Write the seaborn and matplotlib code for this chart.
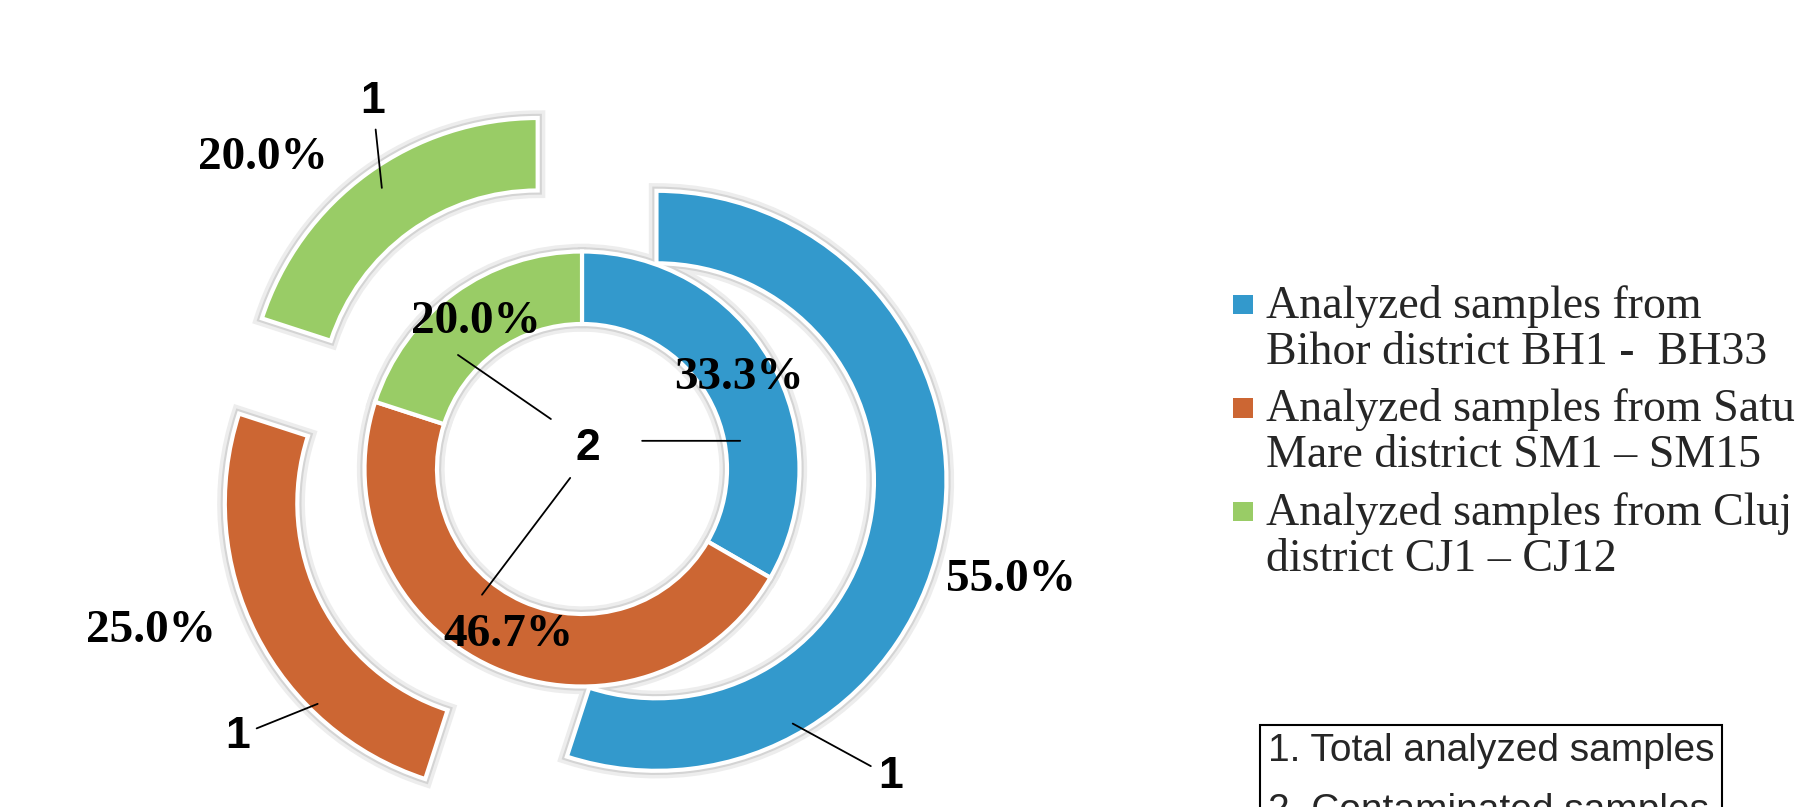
import matplotlib

matplotlib.use("Agg")
import matplotlib.patches as mpatches
import matplotlib.pyplot as plt
import numpy as np
import seaborn as sns
from matplotlib.legend_handler import HandlerPatch

# data: number of samples per district
districts = ["Bihor", "Satu Mare", "Cluj"]
total_samples = [33, 15, 12]  # ring 1 (outer)
contaminated_samples = [5, 7, 3]  # ring 2 (inner)
district_colors = ["#3399CC", "#CC6633", "#99CC66"]
legend_labels = [
    "Analyzed samples from\nBihor district BH1 -  BH33",
    "Analyzed samples from Satu\nMare district SM1 \u2013 SM15",
    "Analyzed samples from Cluj\ndistrict CJ1 \u2013 CJ12",
]
note_lines = ["1. Total analyzed samples", "2. Contaminated samples"]

# layout (pixels / pie units)
W, H = 1809, 807
CX, CY = 582, 469
R_PX = 290
EXPLODE = 0.26
# label placement: (clockwise angle from 12 o'clock, distance from slice centre)
outer_pct_place = [(105.7, 1.27), (250.6, 1.33), (312.3, 1.28)]
outer_tag_place = [(141.7, 1.30), (230.0, 1.25), (331.7, 1.20)]
outer_tag_tip = [(150.7, 0.96), (224.5, 0.97), (324.7, 0.93)]
inner_tag_from = [(64.9, 0.229), (233.0, 0.051), (328.1, 0.203)]
inner_tag_tip = [(79.9, 0.554), (218.5, 0.554), (312.6, 0.581)]
tag2_xy = (0.021, 0.072)


def polar(center, angle, r):
    a = np.deg2rad(angle)
    return (center[0] + r * np.sin(a), center[1] + r * np.cos(a))


class TopSquare(HandlerPatch):
    # square marker lined up with the first line of a two-line label
    def create_artists(self, legend, orig_handle, xdescent, ydescent,
                       width, height, fontsize, trans):
        side = 0.43 * fontsize
        sq = mpatches.Rectangle(
            (-xdescent, -ydescent + 0.68 * fontsize), side, side,
            facecolor=orig_handle.get_facecolor(), edgecolor="none",
            transform=trans,
        )
        return [sq]


sns.set_theme(style="white")
plt.rcParams["font.family"] = ["Liberation Serif", "DejaVu Serif"]
palette = sns.color_palette(district_colors)

fig = plt.figure(figsize=(W / 100, H / 100), dpi=100)
ax = fig.add_axes([0, 0, 1, 1])

pie_kw = dict(startangle=90, counterclock=False)

# soft grey glow under the rings
for lw, grey in [(11, "#ededed"), (6, "#d4d4d4")]:
    ax.pie(total_samples, radius=1.0, explode=[EXPLODE] * 3, colors=[grey] * 3,
           wedgeprops=dict(width=0.25, edgecolor=grey, linewidth=lw, zorder=1),
           **pie_kw)
    ax.pie(contaminated_samples, radius=0.75, colors=[grey] * 3,
           wedgeprops=dict(width=0.25, edgecolor=grey, linewidth=lw, zorder=1),
           **pie_kw)

pct_font = dict(fontfamily="Liberation Serif", fontweight="bold", fontsize=34,
                color="black")
tag_font = dict(fontfamily="Liberation Sans", fontweight="bold", fontsize=32,
                color="black")

outer, _ = ax.pie(total_samples, radius=1.0, explode=[EXPLODE] * 3, colors=palette,
                  wedgeprops=dict(width=0.25, edgecolor="white", linewidth=3, zorder=2),
                  **pie_kw)
inner, _, inner_pct = ax.pie(
    contaminated_samples, radius=0.75, colors=palette,
    autopct="%1.1f%%", pctdistance=0.833,
    wedgeprops=dict(width=0.25, edgecolor="white", linewidth=3, zorder=2),
    textprops=dict(zorder=5, **pct_font),
    **pie_kw,
)

# outer ring percentages
share = np.array(total_samples) / sum(total_samples) * 100
for w, p, (ang, r) in zip(outer, share, outer_pct_place):
    x, y = polar(w.center, ang, r)
    ax.text(x, y, f"{p:.1f}%", ha="center", va="center", zorder=5, **pct_font)

line_kw = dict(arrowstyle="-", color="black", lw=1.3, shrinkA=3, shrinkB=0)

# ring names with leader lines
for w, (ang, r), (tang, tr) in zip(outer, outer_tag_place, outer_tag_tip):
    ax.annotate("1", xy=polar(w.center, tang, tr), xytext=polar(w.center, ang, r),
                ha="center", va="center", arrowprops=line_kw, zorder=5, **tag_font)

ax.text(*tag2_xy, "2", ha="center", va="center", zorder=5, **tag_font)
for w, (fang, fr), (tang, tr) in zip(inner, inner_tag_from, inner_tag_tip):
    ax.annotate("", xy=polar(w.center, tang, tr), xytext=polar(w.center, fang, fr),
                arrowprops=dict(line_kw, shrinkA=0), zorder=5)

ax.set_aspect("auto")
ax.set_xlim(-CX / R_PX, (W - CX) / R_PX)
ax.set_ylim(-(H - CY) / R_PX, CY / R_PX)
ax.axis("off")

leg = fig.legend(
    outer, legend_labels, loc="upper left",
    bbox_to_anchor=(1233 / W, 1 - 285 / H), frameon=False,
    prop=dict(family="Liberation Serif", size=33),
    handlelength=0.43, handleheight=0.7, handletextpad=0.3,
    labelspacing=0.32, borderpad=0, borderaxespad=0,
    handler_map={mpatches.Wedge: TopSquare()},
)
for t in leg.get_texts():
    t.set_linespacing(1.1)

fig.text(1268 / W, 1 - 733 / H, "\n".join(note_lines), ha="left", va="top",
         fontfamily="Liberation Sans", fontsize=28, linespacing=1.87,
         bbox=dict(boxstyle="square,pad=0.2", facecolor="white",
                   edgecolor="black", linewidth=1.5))

fig.savefig("out.png", dpi=100)
plt.close("all")
